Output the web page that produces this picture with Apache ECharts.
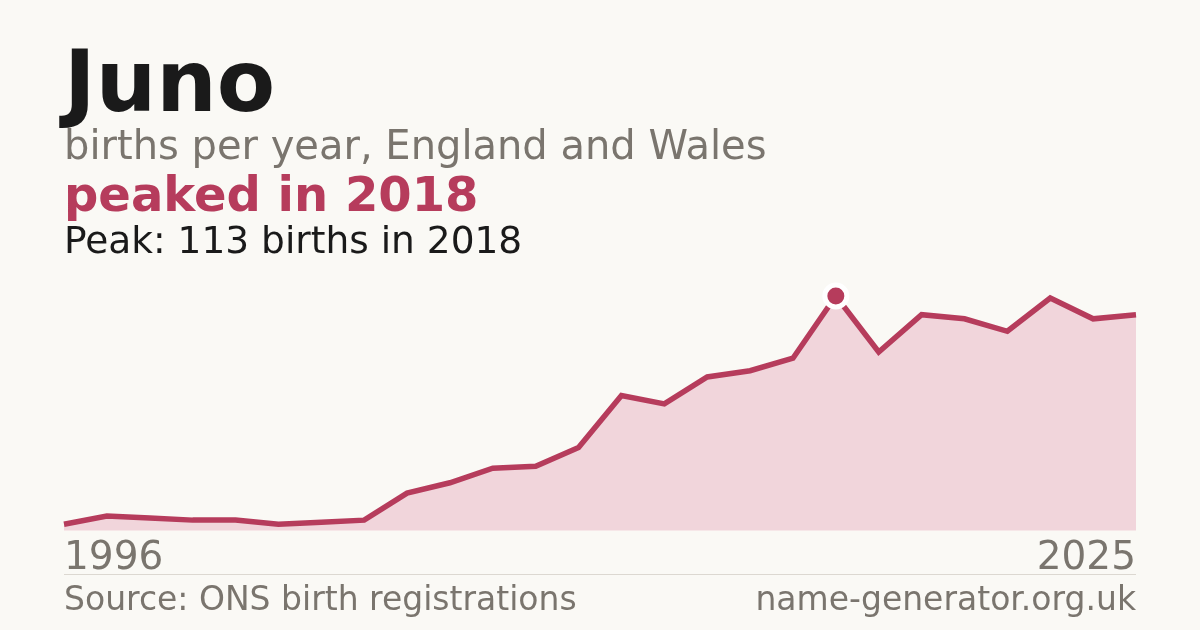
<!DOCTYPE html>
<html>
<head>
<meta charset="utf-8">
<title>Juno</title>
<script src="https://cdn.jsdelivr.net/npm/echarts@6/dist/echarts.min.js"></script>
<style>
    html, body {margin: 0; padding: 0; background: #faf9f5;}
    #main {width: 1200px; height: 630px;}
</style>
</head>
<body>
<div id="main"></div>
<script>
// data
var years = ['1996', '2001', '2002', '2003', '2004', '2005', '2006', '2007', '2008', '2009',
    '2010', '2011', '2012', '2013', '2014', '2015', '2016', '2017', '2018', '2019',
    '2020', '2021', '2022', '2023', '2024', '2025'];
var births = [3, 7, 6, 5, 5, 3, 4, 5, 18, 23,
    30, 31, 40, 65, 61, 74, 77, 83, 113, 86,
    104, 102, 96, 112, 102, 104];

var nameText = 'Juno';
var subText = 'births per year, England and Wales';
var trendText = 'peaked in 2018';
var peakText = 'Peak: 113 births in 2018';
var sourceText = 'Source: ONS birth registrations';
var siteText = 'name-generator.org.uk';

// find the peak
var peakIndex = 0;
for (var i = 0; i < births.length; i++) {
    if (births[i] > births[peakIndex]) {
        peakIndex = i;
    }
}

var font = 'DejaVu Sans';
var red = '#b63c5c';
var grey = '#7a756e';

var myChart = echarts.init(document.getElementById('main'));

myChart.setOption({
    backgroundColor: '#faf9f5',
    animation: false,
    title: [
        {text: nameText, left: 64, top: 46, padding: 0,
            textStyle: {fontFamily: font, fontSize: 85, fontWeight: 'bold', color: '#1a1a1a', lineHeight: 85}},
        {text: subText, left: 64, top: 129, padding: 0,
            textStyle: {fontFamily: font, fontSize: 40, fontWeight: 'normal', color: grey, lineHeight: 40}},
        {text: trendText, left: 64, top: 175, padding: 0,
            textStyle: {fontFamily: font, fontSize: 48, fontWeight: 'bold', color: red, lineHeight: 48}},
        {text: peakText, left: 64, top: 225, padding: 0,
            textStyle: {fontFamily: font, fontSize: 37.5, fontWeight: 'normal', color: '#1a1a1a', lineHeight: 37}},
        {text: sourceText, left: 64, top: 585, padding: 0,
            textStyle: {fontFamily: font, fontSize: 33, fontWeight: 'normal', color: grey, lineHeight: 33}},
        {text: siteText, right: 64, top: 585, padding: 0,
            textStyle: {fontFamily: font, fontSize: 33, fontWeight: 'normal', color: grey, lineHeight: 33}}
    ],
    graphic: [{
        type: 'line',
        shape: {x1: 64, y1: 574.5, x2: 1136, y2: 574.5},
        style: {stroke: '#dcd8d1', lineWidth: 1}
    }],
    grid: {left: 64, right: 64, top: 296, bottom: 99.5},
    xAxis: {
        type: 'category',
        data: years,
        boundaryGap: false,
        axisLine: {show: false},
        axisTick: {show: false},
        axisLabel: {
            interval: function (index) {
                return index === 0 || index === years.length - 1;
            },
            fontFamily: font,
            fontSize: 39,
            color: grey,
            margin: 9,
            alignMinLabel: 'left',
            alignMaxLabel: 'right'
        }
    },
    yAxis: {
        type: 'value',
        min: 0,
        max: births[peakIndex],
        show: false,
        splitLine: {show: false}
    },
    series: [{
        type: 'line',
        data: births,
        showSymbol: false,
        z: 2,
        lineStyle: {color: red, width: 5.5, join: 'miter'},
        areaStyle: {color: '#f1d5db', opacity: 1}
    }, {
        type: 'scatter',
        data: [[years[peakIndex], births[peakIndex]]],
        symbolSize: 22,
        z: 5,
        itemStyle: {color: red, borderColor: '#ffffff', borderWidth: 5, opacity: 1}
    }]
});
</script>
</body>
</html>
